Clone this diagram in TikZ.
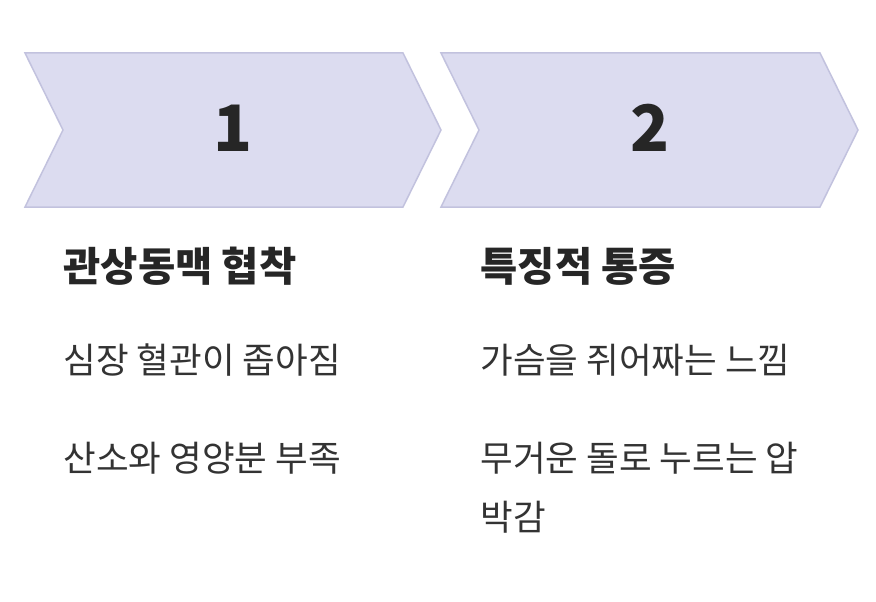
\documentclass[tikz,border=0pt]{standalone}
\usepackage{fontspec}
\newfontfamily\kr{Noto Sans CJK KR}
\begin{document}
\begin{tikzpicture}[x=1pt,y=-1pt,
  chev/.style={fill=chevfill,draw=chevline,line width=1.5pt,line join=miter},
  num/.style={font=\kr\bfseries\fontsize{64}{66}\selectfont,text=black!85},
  ttl/.style={anchor=base west,font=\kr\bfseries\fontsize{40.5}{44}\selectfont,text=black!85},
  body/.style={anchor=base west,font=\kr\fontsize{35.5}{40}\selectfont,text=black!80}]
\definecolor{chevfill}{HTML}{DCDCF0}
\definecolor{chevline}{HTML}{C2C2DE}
\useasboundingbox (0,0) rectangle (876,602);
\fill[white] (0,0) rectangle (876,602);
\draw[chev] (25,53) -- (403,53) -- (441,130) -- (403,207) -- (25,207) -- (63,130) -- cycle;
\draw[chev] (441,53) -- (820,53) -- (858,130) -- (820,207) -- (441,207) -- (479,130) -- cycle;
\node[num] (n1) at (233,128) {1};
\node[num] (n2) at (650,128) {2};
\node[ttl] (t1) at (60,281) {관상동맥 협착};
\node[ttl] (t2) at (477,281) {특징적 통증};
\node[body] (a1) at (60,373) {심장 혈관이 좁아짐};
\node[body] (a2) at (60,471) {산소와 영양분 부족};
\node[body] (b1) at (477,373) {가슴을 쥐어짜는 느낌};
\node[body] (b2) at (477,471) {무거운 돌로 누르는 압};
\node[body] (b3) at (477,530) {박감};
\end{tikzpicture}
\end{document}
